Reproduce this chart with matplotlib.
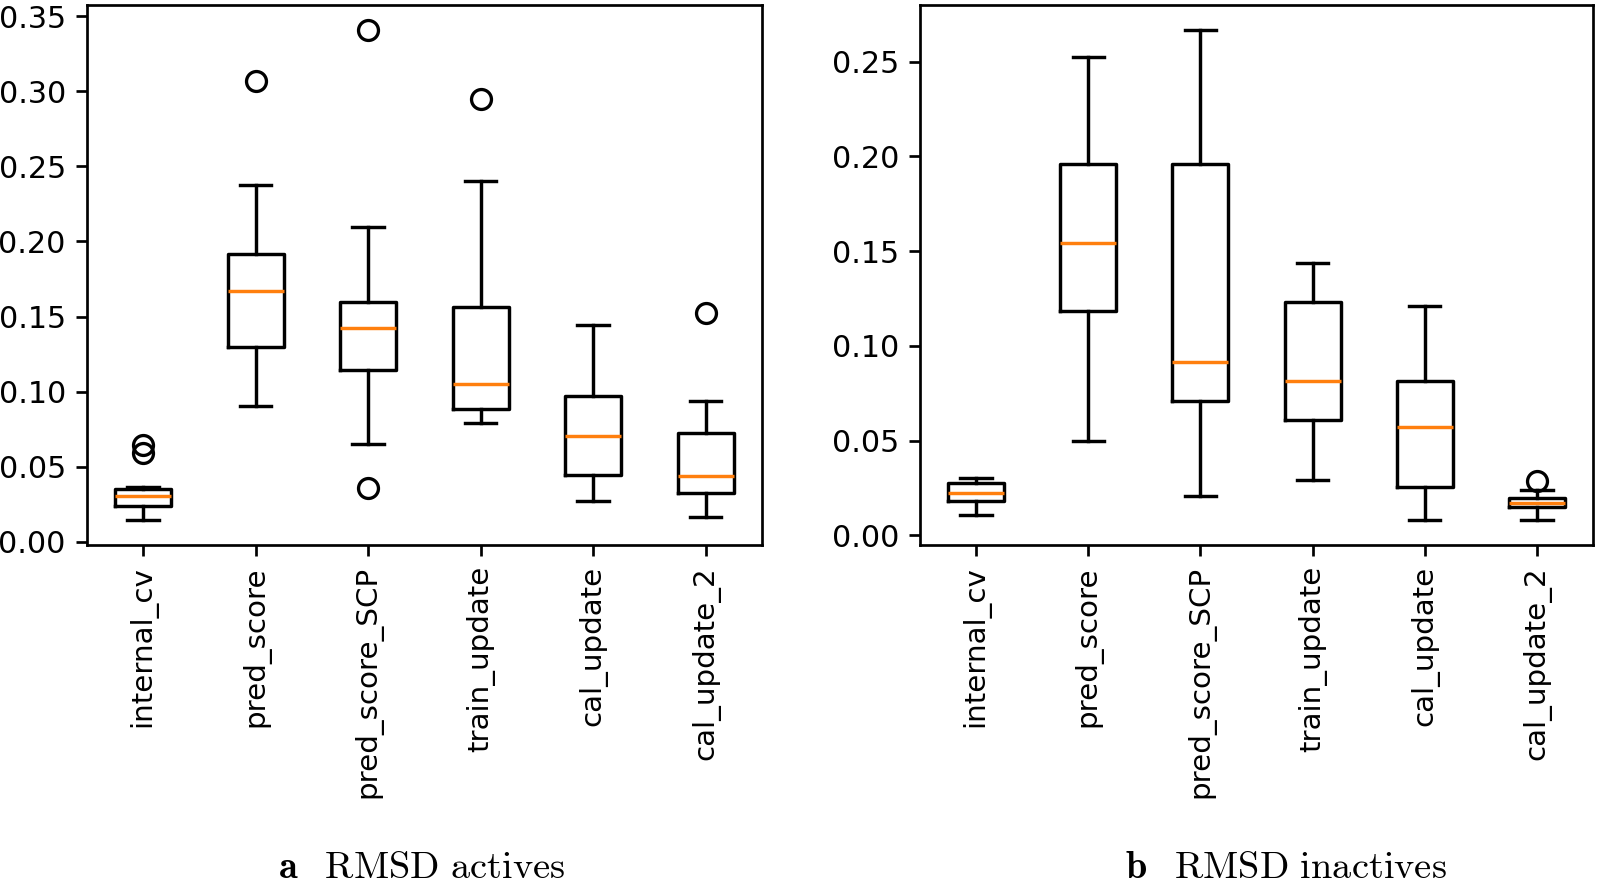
import matplotlib
matplotlib.use("Agg")
import matplotlib.pyplot as plt

plt.rcParams['mathtext.fontset'] = 'cm'
plt.rcParams['font.size'] = 10.6
plt.rcParams['xtick.labelsize'] = 10.3
plt.rcParams['axes.linewidth'] = 0.95
plt.rcParams['xtick.major.width'] = 0.95
plt.rcParams['ytick.major.width'] = 0.95
plt.rcParams['xtick.major.size'] = 3.9
plt.rcParams['ytick.major.size'] = 3.9

labels = ["internal_cv", "pred_score", "pred_score_SCP",
          "train_update", "cal_update", "cal_update_2"]

# RMSD actives: (whislo, q1, median, q3, whishi)
act_whislo = [0.0143, 0.0902, 0.0651, 0.0791, 0.0271, 0.0164]
act_q1 = [0.0240, 0.1296, 0.1144, 0.0883, 0.0446, 0.0323]
act_med = [0.0304, 0.1672, 0.1425, 0.1052, 0.0703, 0.0442]
act_q3 = [0.0351, 0.1919, 0.1598, 0.1562, 0.0969, 0.0724]
act_whishi = [0.0366, 0.2379, 0.2094, 0.2401, 0.1441, 0.0940]
act_fliers = [[0.0589, 0.0648], [0.3068], [0.0361, 0.3410], [0.2951], [], [0.1522]]

# RMSD inactives
ina_whislo = [0.0109, 0.0497, 0.0209, 0.0290, 0.0079, 0.0079]
ina_q1 = [0.0183, 0.1182, 0.0712, 0.0610, 0.0254, 0.0151]
ina_med = [0.0222, 0.1544, 0.0913, 0.0813, 0.0570, 0.0169]
ina_q3 = [0.0279, 0.1958, 0.1958, 0.1231, 0.0813, 0.0200]
ina_whishi = [0.0301, 0.2523, 0.2669, 0.1438, 0.1210, 0.0239]
ina_fliers = [[], [], [], [], [], [0.0286]]


def make_stats(whislo, q1, med, q3, whishi, fliers):
    stats = []
    for i in range(len(labels)):
        stats.append(dict(label=labels[i], whislo=whislo[i], q1=q1[i],
                          med=med[i], q3=q3[i], whishi=whishi[i],
                          fliers=fliers[i]))
    return stats


lw = 1.2
box_kw = dict(
    widths=0.5, capwidths=0.28,
    boxprops=dict(linewidth=lw),
    whiskerprops=dict(linewidth=lw),
    capprops=dict(linewidth=lw),
    medianprops=dict(linewidth=lw, color='C1'),
    flierprops=dict(marker='o', markersize=7, markeredgewidth=1.15,
                    markerfacecolor='none', markeredgecolor='black'),
)

dpi = 205
fig = plt.figure(figsize=(1598 / dpi, 891 / dpi), dpi=dpi)
ax1 = fig.add_axes([0.0544, 0.3883, 0.4224, 0.606])
ax2 = fig.add_axes([0.5757, 0.3883, 0.4212, 0.606])

ax1.bxp(make_stats(act_whislo, act_q1, act_med, act_q3, act_whishi, act_fliers),
        **box_kw)
ax2.bxp(make_stats(ina_whislo, ina_q1, ina_med, ina_q3, ina_whishi, ina_fliers),
        **box_kw)

for ax in (ax1, ax2):
    ax.tick_params(axis='x', labelrotation=90)

ax1.set_yticks([0.0, 0.05, 0.10, 0.15, 0.20, 0.25, 0.30, 0.35])
ax2.set_yticks([0.0, 0.05, 0.10, 0.15, 0.20, 0.25])

fig.text(422 / 1598, 1 - 868 / 891, r'$\mathbf{a}\;\;\;\mathrm{RMSD\ actives}$',
         ha='center', va='center', fontsize=13.5)
fig.text(1286 / 1598, 1 - 868 / 891, r'$\mathbf{b}\;\;\;\mathrm{RMSD\ inactives}$',
         ha='center', va='center', fontsize=13.5)

fig.savefig("out.png", dpi=dpi)
